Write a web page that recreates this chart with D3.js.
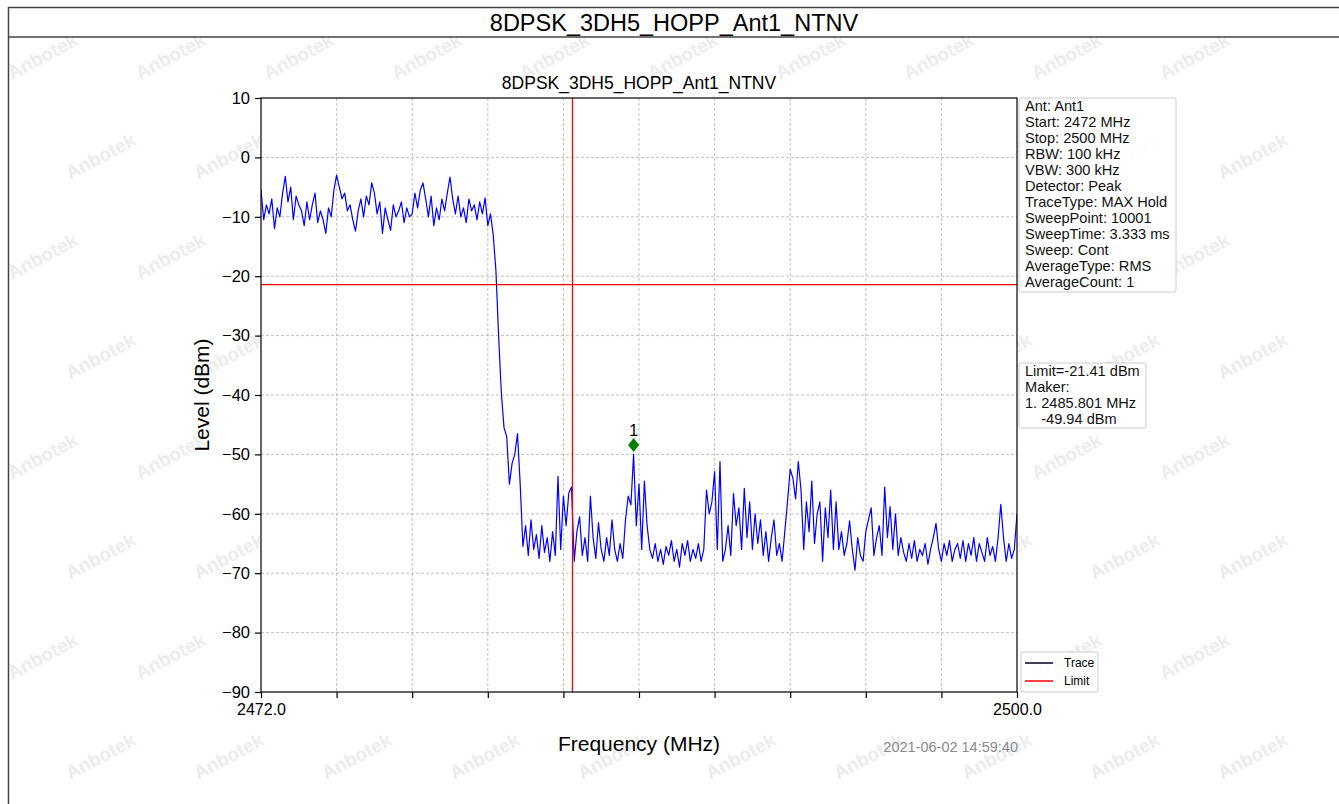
<!DOCTYPE html>
<html><head><meta charset="utf-8">
<script src="https://cdn.jsdelivr.net/npm/d3@7"></script>
<style>
body{margin:0;background:#fff;}
svg{display:block;font-family:"Liberation Sans",Arial,Helvetica,sans-serif;}
</style>
</head><body>
<svg id="chart" width="1339" height="804"></svg>
<script>
// ---------------- data ----------------
const pageTitle = "8DPSK_3DH5_HOPP_Ant1_NTNV";
const plotTitle = "8DPSK_3DH5_HOPP_Ant1_NTNV";
const freqStart = 2472.0;
const freqStop = 2500.0;
const levelMin = -90;
const levelMax = 10;
const yTickValues = [10, 0, -10, -20, -30, -40, -50, -60, -70, -80, -90];
const xTickValues = [2472.0, 2474.8, 2477.6, 2480.4, 2483.2, 2486.0, 2488.8, 2491.6, 2494.4, 2497.2, 2500.0];
const xTickLabels = ["2472.0", "", "", "", "", "", "", "", "", "", "2500.0"];
const limitLevel = -21.41;
const bandEdgeFreq = 2483.5;
const markerFreq = 2485.801;
const markerLevel = -49.94;
const markerLabel = "1";
const timestamp = "2021-06-02 14:59:40";
const infoLines = ["Ant: Ant1", "Start: 2472 MHz", "Stop: 2500 MHz", "RBW: 100 kHz", "VBW: 300 kHz",
  "Detector: Peak", "TraceType: MAX Hold", "SweepPoint: 10001", "SweepTime: 3.333 ms",
  "Sweep: Cont", "AverageType: RMS", "AverageCount: 1"];
const markerLines = ["Limit=-21.41 dBm", "Maker:", "1. 2485.801 MHz", "    -49.94 dBm"];
const legendItems = ["Trace", "Limit"];
// trace levels (dBm), evenly spaced from freqStart to freqStop
const traceLevels = [
  -5.5,-10.5,-8,-9.5,-7,-12,-8.5,-10,-6,-3.2,-7.5,-5,-10.5,-6.5,-8,-9,-11.5,-7.5,-10.5,-8,
  -6,-11,-9,-10.5,-12.8,-8.5,-10,-5.5,-3,-5,-7,-6,-9,-8,-10.5,-12.4,-9,-7,-10,-6.5,
  -8,-4.3,-6,-9.5,-7.5,-12.8,-8.5,-10.5,-12.3,-8,-10,-9,-7.5,-11,-8.5,-10,-9.5,-6,-8.5,-5.5,
  -4.3,-7,-10,-6.5,-11.5,-8.5,-10.5,-7,-9,-6,-3.3,-7,-9.5,-6.5,-10,-8.5,-11,-7,-9,-8,
  -10.5,-7.5,-9.5,-6.8,-11.5,
  -9.5,-13,-19,-30,-39.5,-45.5,-47,-55,-51.5,-50,-46.5,-55,-65.5,-62,-67,
  -61,-66,-63.5,-67.5,-62,-66.5,-64,-68,-63,-67,-53.7,-66,-57,-62,-56.5,-55.5,-68,-63,-60.5,-67,
  -64,-68,-57,-64,-67.5,-61.5,-66,-68,-64,-67,-61,-66,-68,-65,-67.5,-61,-57,-58.5,-50,-62,
  -55,-66,-54.5,-62,-66,-67.5,-65,-68,-66,-68.5,-65.5,-67,-64.5,-68,-66,-69,-65,-67,-64.5,-68,
  -66,-67.5,-65,-68,-66,-56,-60,-58,-52.9,-66,-51.2,-68,-66,-62,-67,-56.6,-62,-59,-66,-55.7,
  -64,-58,-66,-60,-65,-61,-67,-63,-68,-64,-61,-67,-65,-68,-63,-58,-52.5,-54,-57.5,-51.2,
  -56,-66,-58,-63,-54.5,-65,-60,-58,-68,-59,-64,-56,-66,-58,-66,-63,-67,-65,-61.2,-66,
  -69.5,-64,-67,-68,-63,-61,-59,-67,-64,-62,-67,-55.5,-64,-58.8,-66,-60,-67,-64,-66.5,-68,
  -65,-67.5,-64.5,-68,-66,-67,-65,-68.5,-66,-64,-61.6,-66,-68,-65,-67,-64.5,-68,-66,-65,-67.5,
  -64.5,-68,-65,-67,-64,-68,-65,-66.5,-68,-64,-67,-65.5,-68,-64,-58.4,-64,-68,-65,-67.5,-66,
  -60
];

// ---------------- layout ----------------
const W = 1339, H = 804;
const plot = {left: 261, right: 1017, top: 98, bottom: 692};
const svg = d3.select("#chart");

// watermark (faint, background only)
const wm = svg.append("g").attr("fill", "#ececec").attr("font-size", 19).attr("font-weight", "bold");
for (let r = 0; r < 8; r++) {
  for (let c = 0; c < 11; c++) {
    const wx = c * 128 + (r % 2 ? 70 : 12);
    const wy = r * 100 + 80;
    if (wx + 80 > W || wy > H - 4) continue;
    wm.append("text").attr("transform", `translate(${wx},${wy}) rotate(-28)`).text("Anbotek");
  }
}

// outer frame
svg.append("line").attr("x1", 8).attr("x2", W).attr("y1", 7.5).attr("y2", 7.5).attr("stroke", "#444").attr("stroke-width", 1.5);
svg.append("line").attr("x1", 8).attr("x2", W).attr("y1", 37).attr("y2", 37).attr("stroke", "#444").attr("stroke-width", 1.5);
svg.append("line").attr("x1", 8.5).attr("x2", 8.5).attr("y1", 7).attr("y2", H).attr("stroke", "#444").attr("stroke-width", 1.5);
svg.append("text").attr("x", 674).attr("y", 31).attr("text-anchor", "middle").attr("font-size", 23.5).attr("fill", "#000").text(pageTitle);

// scales
const x = d3.scaleLinear().domain([freqStart, freqStop]).range([plot.left, plot.right]);
const y = d3.scaleLinear().domain([levelMin, levelMax]).range([plot.bottom, plot.top]);
const idx = d3.scaleLinear().domain([0, traceLevels.length - 1]).range([freqStart, freqStop]);

// axes background
svg.append("rect").attr("x", plot.left).attr("y", plot.top).attr("width", plot.right - plot.left)
  .attr("height", plot.bottom - plot.top).attr("fill", "#fff");

// grid
const grid = svg.append("g").attr("stroke", "#b0b0b0").attr("stroke-width", 0.8).attr("stroke-dasharray", "3,2");
grid.selectAll("line.h").data(yTickValues.slice(1, -1)).join("line")
  .attr("x1", plot.left).attr("x2", plot.right).attr("y1", d => y(d)).attr("y2", d => y(d));
grid.selectAll("line.v").data(xTickValues.slice(1, -1)).join("line")
  .attr("y1", plot.top).attr("y2", plot.bottom).attr("x1", d => x(d)).attr("x2", d => x(d));

// trace
svg.append("clipPath").attr("id", "clip").append("rect")
  .attr("x", plot.left).attr("y", plot.top).attr("width", plot.right - plot.left).attr("height", plot.bottom - plot.top);
svg.append("path").datum(traceLevels).attr("clip-path", "url(#clip)")
  .attr("fill", "none").attr("stroke", "#0000ff").attr("stroke-width", 1.2).attr("stroke-linejoin", "round")
  .attr("d", d3.line().x((d, i) => x(idx(i))).y(d => y(d)));

// limit lines
svg.append("line").attr("x1", plot.left).attr("x2", plot.right).attr("y1", y(limitLevel)).attr("y2", y(limitLevel))
  .attr("stroke", "#ff0000").attr("stroke-width", 1.3);
const bx = Math.round(x(bandEdgeFreq)) + 0.5;
svg.append("line").attr("x1", bx).attr("x2", bx).attr("y1", plot.top).attr("y2", plot.bottom)
  .attr("stroke", "#ff0000").attr("stroke-width", 1.3);

// marker
const mx = x(markerFreq), my = y(markerLevel) - 9;
svg.append("path").attr("d", `M${mx},${my - 7}L${mx + 5.5},${my}L${mx},${my + 7}L${mx - 5.5},${my}Z`).attr("fill", "#008000");
svg.append("text").attr("x", mx).attr("y", my - 9).attr("text-anchor", "middle").attr("font-size", 16).text(markerLabel);

// frame + axes
svg.append("rect").attr("x", plot.left).attr("y", plot.top).attr("width", plot.right - plot.left)
  .attr("height", plot.bottom - plot.top).attr("fill", "none").attr("stroke", "#000").attr("stroke-width", 1.2);

const yAxis = d3.axisLeft(y).tickValues(yTickValues).tickSize(6).tickPadding(5)
  .tickFormat(d => (d < 0 ? "\u2212" + Math.abs(d) : String(d)));
const gy = svg.append("g").attr("transform", `translate(${plot.left},0)`).call(yAxis);
gy.select(".domain").remove();
gy.selectAll("text").attr("font-size", 16.5).attr("fill", "#000").attr("font-family", "Liberation Sans, Arial, sans-serif");
gy.selectAll("line").attr("stroke", "#000").attr("stroke-width", 1.2);

const xAxis = d3.axisBottom(x).tickValues(xTickValues).tickSize(6).tickPadding(6)
  .tickFormat((d, i) => xTickLabels[i]);
const gx = svg.append("g").attr("transform", `translate(0,${plot.bottom})`).call(xAxis);
gx.select(".domain").remove();
gx.selectAll("text").attr("font-size", 16).attr("fill", "#000").attr("font-family", "Liberation Sans, Arial, sans-serif");
gx.selectAll("line").attr("stroke", "#000").attr("stroke-width", 1.2);

// titles & labels
svg.append("text").attr("x", (plot.left + plot.right) / 2).attr("y", 89).attr("text-anchor", "middle")
  .attr("font-size", 17.5).text(plotTitle);
svg.append("text").attr("x", (plot.left + plot.right) / 2).attr("y", 751).attr("text-anchor", "middle")
  .attr("font-size", 21).text("Frequency (MHz)");
svg.append("text").attr("transform", `translate(209,${(plot.top + plot.bottom) / 2}) rotate(-90)`)
  .attr("text-anchor", "middle").attr("font-size", 21).text("Level (dBm)");
svg.append("text").attr("x", plot.right + 1).attr("y", 752).attr("text-anchor", "end")
  .attr("font-size", 14.5).attr("fill", "#8a8a8a").text(timestamp);

// info boxes
function textBox(lines, bx0, by0, bw, bh, fs, lh, firstBase) {
  const g = svg.append("g");
  g.append("rect").attr("x", bx0).attr("y", by0).attr("width", bw).attr("height", bh).attr("rx", 2)
    .attr("fill", "#fff").attr("fill-opacity", 0.9).attr("stroke", "#cccccc").attr("stroke-width", 1);
  g.selectAll("text").data(lines).join("text").attr("x", bx0 + 6).attr("y", (d, i) => by0 + firstBase + i * lh)
    .attr("font-size", fs).attr("fill", "#111").style("white-space", "pre").text(d => d);
}
textBox(infoLines, plot.right + 2, 98, 157, 194, 14.6, 16, 12.5);
textBox(markerLines, plot.right + 2, 363, 127, 65, 14.6, 16, 12.5);

// legend
const lg = svg.append("g");
lg.append("rect").attr("x", plot.right + 4).attr("y", 652).attr("width", 77).attr("height", 40).attr("rx", 2)
  .attr("fill", "#fff").attr("fill-opacity", 0.9).attr("stroke", "#cccccc");
const legendColors = ["#000020", "#ff0000"];
legendItems.forEach((name, i) => {
  const ly = 663 + i * 18;
  lg.append("line").attr("x1", plot.right + 8).attr("x2", plot.right + 36).attr("y1", ly).attr("y2", ly)
    .attr("stroke", legendColors[i]).attr("stroke-width", 1.5);
  lg.append("text").attr("x", plot.right + 47).attr("y", ly + 4).attr("font-size", 12).text(name);
});
</script>
</body></html>
